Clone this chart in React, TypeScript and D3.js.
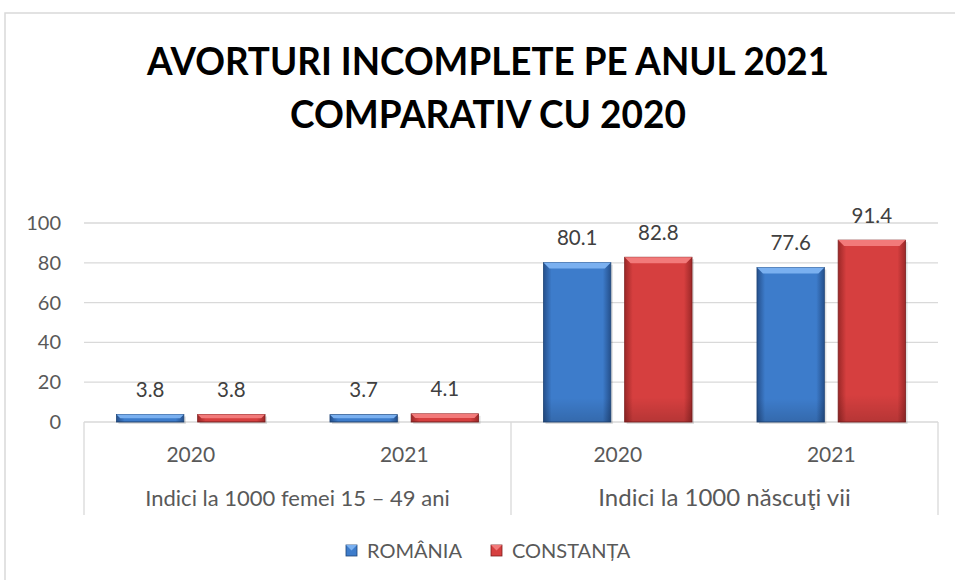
import React from "react";
import * as d3 from "d3";

const groups = ["Indici la 1000 femei 15 – 49 ani", "Indici la 1000 născuţi vii"];
const years = ["2020", "2021", "2020", "2021"];
const groupOfYear = [0, 0, 1, 1];
const seriesNames = ["ROMÂNIA", "CONSTANȚA"];
const romania = [3.8, 3.7, 80.1, 77.6];
const constanta = [3.8, 4.1, 82.8, 91.4];
const yTicks = [0, 20, 40, 60, 80, 100];
const titleLines = ["AVORTURI INCOMPLETE PE ANUL 2021", "COMPARATIV CU 2020"];

const W = 955;
const H = 580;
const left = 84;
const right = 938;
const top = 223;
const bottom = 422;

const palettes = [
  { light: "#7ab0f0", mid: "#3d7ccb", dark: "#25508c", edge: "#1f4577" },
  { light: "#f27a7a", mid: "#d63f3f", dark: "#9c2828", edge: "#7d1f1f" },
];

export default function App() {
  const x0 = d3.scaleBand<number>().domain(d3.range(years.length)).range([left, right]).paddingInner(0).paddingOuter(0);
  const x1 = d3.scaleBand<number>().domain([0, 1]).range([0, x0.bandwidth()]).paddingInner(0.17).paddingOuter(0.4);
  const y = d3.scaleLinear().domain([0, 100]).range([bottom, top]);
  const series = [romania, constanta];
  const font = "Lato, 'Open Sans', sans-serif";
  const bevel = 6;
  const titleW = [682, 396];
  const titleY = [75, 128];

  return (
    <svg width={W} height={H} style={{ position: "absolute", left: 0, top: 0, background: "#fff" }}>
      <defs>
        {palettes.map((p, i) => (
          <linearGradient key={i} id={`g${i}`} x1="0" x2="1" y1="0" y2="0">
            <stop offset="0" stopColor={p.dark} />
            <stop offset="0.12" stopColor={p.mid} />
            <stop offset="0.88" stopColor={p.mid} />
            <stop offset="1" stopColor={p.dark} />
          </linearGradient>
        ))}
        {palettes.map((p, i) => (
          <linearGradient key={"v" + i} id={`v${i}`} x1="0" x2="0" y1="0" y2="1">
            <stop offset="0" stopColor="#fff" stopOpacity="0" />
            <stop offset="0.85" stopColor="#000" stopOpacity="0" />
            <stop offset="1" stopColor="#000" stopOpacity="0.15" />
          </linearGradient>
        ))}
      </defs>
      <rect x={5} y={13} width={W} height={H} fill="#fff" stroke="#d9d9d9" strokeWidth={1.5} />

      {titleLines.map((t, i) => (
        <text
          key={i}
          x={488}
          y={titleY[i]}
          textAnchor="middle"
          fontFamily={font}
          fontWeight="bold"
          fontSize={38}
          fill="#000"
          textLength={titleW[i]}
          lengthAdjust="spacingAndGlyphs"
        >
          {t}
        </text>
      ))}

      {yTicks.map((t) => (
        <g key={t}>
          <line x1={left} x2={right} y1={y(t)} y2={y(t)} stroke="#d9d9d9" strokeWidth={1.3} />
          <text x={61} y={y(t) + 7} textAnchor="end" fontFamily={font} fontSize={20} fill="#595959">
            {t}
          </text>
        </g>
      ))}

      {[left, (left + right) / 2, right].map((xv, i) => (
        <line key={i} x1={xv} x2={xv} y1={bottom} y2={515} stroke="#d9d9d9" strokeWidth={1.3} />
      ))}

      {years.map((yr, i) => (
        <text key={i} x={x0(i)! + x0.bandwidth() / 2} y={462} textAnchor="middle" fontFamily={font} fontSize={21} fill="#595959">
          {yr}
        </text>
      ))}
      {groups.map((g, gi) => {
        const idx = groupOfYear.map((v, i) => (v === gi ? i : -1)).filter((v) => v >= 0);
        const cx = (x0(idx[0])! + x0(idx[idx.length - 1])! + x0.bandwidth()) / 2;
        return (
          <text key={gi} x={cx} y={506} textAnchor="middle" fontFamily={font} fontSize={gi === 0 ? 22 : 24} fill="#595959">
            {g}
          </text>
        );
      })}

      {years.map((_, i) =>
        series.map((s, si) => {
          const bx = x0(i)! + x1(si)!;
          const bw = x1.bandwidth();
          const by = y(s[i]);
          const bh = bottom - by;
          const p = palettes[si];
          const bv = Math.min(bevel, bh / 2);
          return (
            <g key={`${i}-${si}`}>
              <rect x={bx + 2} y={by + 2} width={bw} height={bh} fill="#000" opacity={0.12} />
              <rect x={bx} y={by} width={bw} height={bh} fill={`url(#g${si})`} stroke={p.edge} strokeWidth={0.8} />
              <rect x={bx} y={by} width={bw} height={bh} fill={`url(#v${si})`} />
              <path
                d={`M${bx},${by} L${bx + bw},${by} L${bx + bw - bv},${by + bv} L${bx + bv},${by + bv} Z`}
                fill={p.light}
              />
              <text x={bx + bw / 2} y={by - 17.5} textAnchor="middle" fontFamily={font} fontSize={20.5} fill="#404040">
                {s[i].toFixed(1)}
              </text>
            </g>
          );
        })
      )}

      {seriesNames.map((n, i) => {
        const lx = [346, 491][i];
        const p = palettes[i];
        return (
          <g key={n}>
            <rect x={lx} y={545} width={11} height={11} fill={p.mid} stroke={p.edge} strokeWidth={0.8} />
            <path d={`M${lx},${545} L${lx + 11},${545} L${lx + 5.5},${550.5} Z`} fill={p.light} />
            <text x={lx + 21} y={558} fontFamily={font} fontSize={20} fill="#595959">
              {n}
            </text>
          </g>
        );
      })}
    </svg>
  );
}
